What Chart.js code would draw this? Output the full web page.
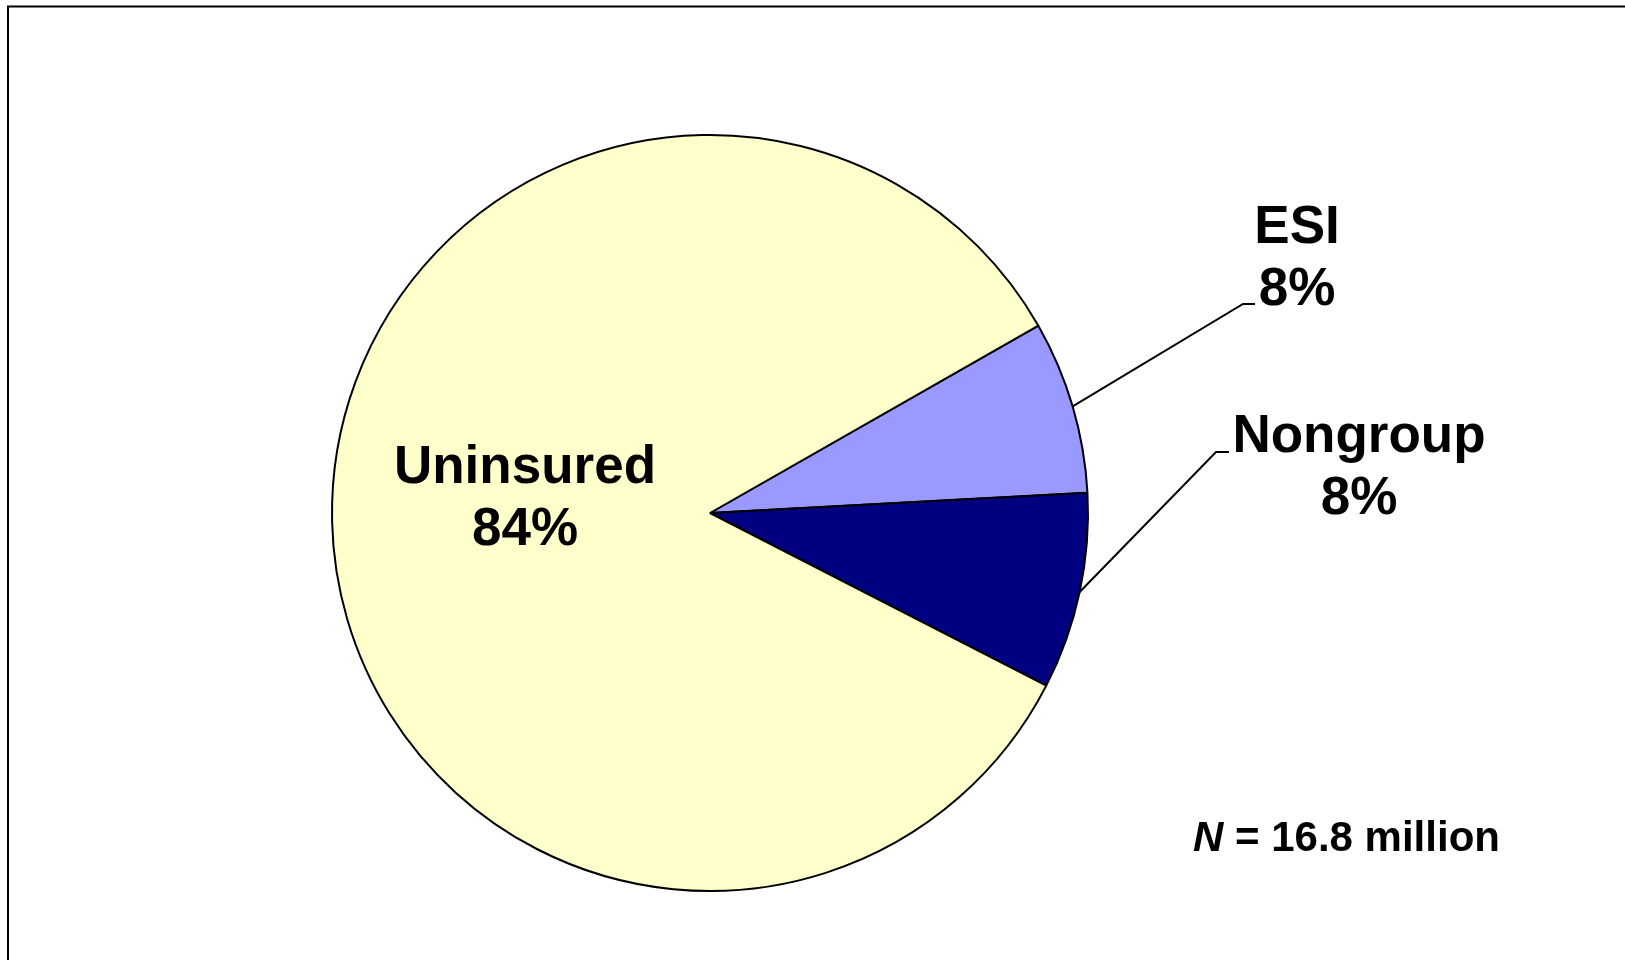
<!DOCTYPE html>
<html>
<head>
<meta charset="utf-8">
<script src="https://cdn.jsdelivr.net/npm/chart.js@4.4.1/dist/chart.umd.min.js"></script>
<style>
  html, body { margin: 0; padding: 0; background: #ffffff; }
  #wrap { width: 1625px; height: 960px; position: relative; }
</style>
</head>
<body>
<div id="wrap"><canvas id="c" width="1625" height="960"></canvas></div>
<script>
// ---- data ----
const categories = ["ESI", "Nongroup", "Uninsured"];
const shares = [7.4, 8.4, 84.2];
const shareLabels = ["8%", "8%", "84%"];
const sliceColors = ["#9999FF", "#000080", "#FFFFCC"];
const noteText = "16.8 million";

// ---- label placement (style) ----
const labelStyle = [
  { x: 1297, y: 243, leader: [[1243, 304], [1255, 304]] },
  { x: 1359, y: 452, leader: [[1216, 452], [1229, 452]] },
  { x: 525,  y: 483, leader: null }
];

const labelPlugin = {
  id: 'pieLabels',
  afterDatasetsDraw(chart) {
    const ctx = chart.ctx;
    const meta = chart.getDatasetMeta(0);
    ctx.save();
    // leader lines
    ctx.strokeStyle = '#000';
    ctx.lineWidth = 2;
    meta.data.forEach((arc, i) => {
      const st = labelStyle[i];
      if (!st.leader) return;
      const p = arc.getProps(['x', 'y', 'startAngle', 'endAngle', 'outerRadius'], true);
      const mid = (p.startAngle + p.endAngle) / 2;
      const sx = p.x + Math.cos(mid) * p.outerRadius;
      const sy = p.y + Math.sin(mid) * p.outerRadius;
      ctx.beginPath();
      ctx.moveTo(sx, sy);
      st.leader.forEach(pt => ctx.lineTo(pt[0], pt[1]));
      ctx.stroke();
    });
    // texts
    ctx.fillStyle = '#000';
    ctx.textAlign = 'center';
    ctx.textBaseline = 'alphabetic';
    ctx.font = 'bold 53px "Liberation Sans", Arial, sans-serif';
    categories.forEach((name, i) => {
      const st = labelStyle[i];
      ctx.fillText(name, st.x, st.y);
      ctx.fillText(shareLabels[i], st.x, st.y + 62);
    });
    // N note
    ctx.textAlign = 'left';
    ctx.font = 'italic bold 42px "Liberation Sans", Arial, sans-serif';
    ctx.fillText('N', 1193, 851);
    const nw = ctx.measureText('N').width;
    ctx.font = 'bold 42px "Liberation Sans", Arial, sans-serif';
    ctx.fillText(' = ' + noteText, 1193 + nw, 851);
    ctx.restore();
  },
  beforeDraw(chart) {
    const ctx = chart.ctx;
    ctx.save();
    ctx.fillStyle = '#ffffff';
    ctx.fillRect(0, 0, chart.width, chart.height);
    ctx.strokeStyle = '#000';
    ctx.lineWidth = 2;
    ctx.beginPath();
    ctx.moveTo(8, 962);
    ctx.lineTo(8, 6.5);
    ctx.lineTo(1630, 6.5);
    ctx.stroke();
    ctx.restore();
  }
};

new Chart(document.getElementById('c'), {
  type: 'pie',
  data: {
    labels: categories,
    datasets: [{
      data: shares,
      backgroundColor: sliceColors,
      borderColor: '#000000',
      borderWidth: 2
    }]
  },
  options: {
    responsive: false,
    animation: false,
    rotation: 60.3,
    radius: 378,
    layout: { padding: { left: 0, right: 205, top: 66, bottom: 0 } },
    plugins: {
      legend: { display: false },
      tooltip: { enabled: false }
    }
  },
  plugins: [labelPlugin]
});
</script>
</body>
</html>
